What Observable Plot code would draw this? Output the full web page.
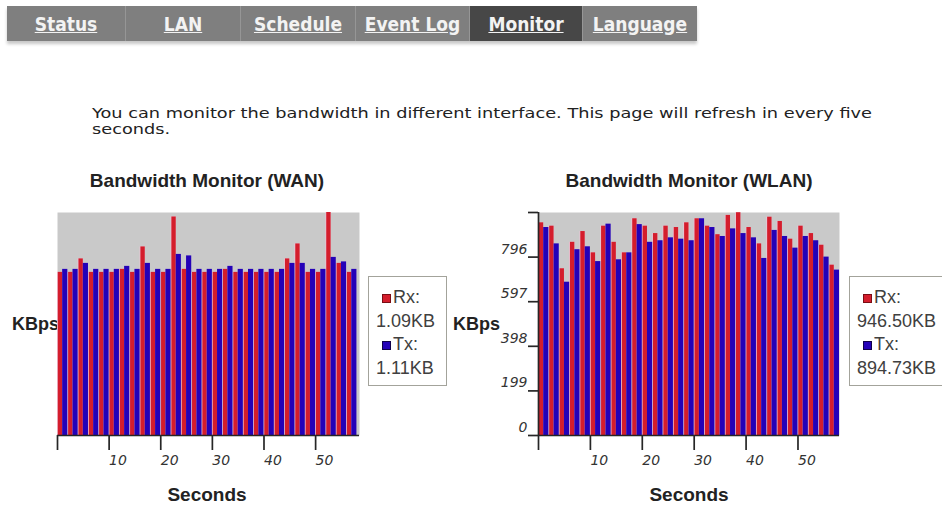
<!DOCTYPE html>
<html>
<head>
<meta charset="utf-8">
<script src="https://cdn.jsdelivr.net/npm/d3@7"></script>
<script src="https://cdn.jsdelivr.net/npm/@observablehq/plot@0.6"></script>
<style>
  html, body { margin: 0; padding: 0; background: #fff; }
  body { width: 942px; height: 506px; position: relative; overflow: hidden; font-family: "Liberation Sans", Arial, sans-serif; }
  #nav { position: absolute; left: 7px; top: 6px; height: 35px; display: flex; background: #7f7f7f; box-shadow: 0 3px 3px rgba(0,0,0,0.22); }
  .tab { height: 35px; display: flex; align-items: center; justify-content: center; box-sizing: border-box; border-right: 1px solid #969696; }
  .tab:last-child { border-right: none; }
  .tab span { color: #f3f3f3; font-weight: bold; text-decoration: underline; font-family: "Liberation Sans Narrow", "DejaVu Sans Condensed", "Liberation Sans", sans-serif; font-size: 19px; display: inline-block; }
  .tab.on { background: #474747; }
  #intro { position: absolute; left: 92px; top: 105px; font-family: "DejaVu Sans", Verdana, sans-serif; font-size: 14px; line-height: 16px; color: #222; white-space: nowrap; }
  #intro div { transform-origin: 0 50%; }
  .title, .xlab { position: absolute; font-weight: bold; font-size: 19px; line-height: 20px; color: #222; text-align: center; white-space: nowrap; }
  .ylab { position: absolute; font-weight: bold; font-size: 18px; line-height: 20px; color: #222; white-space: nowrap; }
  .chart { position: absolute; top: 200px; }
  .legend { position: absolute; top: 276px; height: 110px; box-sizing: border-box; border: 1px solid #a3a39b; background: #fff; font-size: 18px; line-height: 23.5px; color: #404040; padding-top: 9px; }
  .legend .row { white-space: nowrap; position: relative; }
  .legend .key { padding-left: 24px; }
  .legend .val { padding-left: 7px; }
  .legend .sw { position: absolute; left: 13px; top: 8px; width: 9px; height: 9px; box-sizing: border-box; }
</style>
</head>
<body>
<div id="nav"></div>
<div id="intro"></div>
<div id="wanTitle" class="title"></div>
<div id="wlanTitle" class="title"></div>
<div id="wanY" class="ylab"></div>
<div id="wlanY" class="ylab"></div>
<div id="wanX" class="xlab"></div>
<div id="wlanX" class="xlab"></div>
<div id="wanChart" class="chart"></div>
<div id="wlanChart" class="chart"></div>
<div id="wanLegend" class="legend"></div>
<div id="wlanLegend" class="legend"></div>
<script>
// ---- data ----
const navTabs = ["Status", "LAN", "Schedule", "Event Log", "Monitor", "Language"];
const activeTab = "Monitor";
const introLines = ["You can monitor the bandwidth in different interface. This page will refresh in every five", "seconds."];

const xTicks = [0, 10, 20, 30, 40, 50];          // seconds
const wlanYTicks = [0, 199, 398, 597, 796, 995];  // KBps

// one Rx/Tx pair per 2-second slot
const wanRx  = [1.09,1.09,1.18,1.09,1.09,1.09,1.11,1.09,1.26,1.09,1.09,1.46,1.11,1.09,1.09,1.09,1.11,1.09,1.09,1.09,1.09,1.09,1.18,1.28,1.09,1.09,1.49,1.15,1.09];
const wanTx  = [1.11,1.11,1.15,1.11,1.11,1.11,1.13,1.11,1.15,1.11,1.11,1.21,1.20,1.11,1.11,1.11,1.13,1.11,1.11,1.11,1.11,1.11,1.15,1.15,1.11,1.11,1.19,1.16,1.11];
const wlanRx = [949,934,744,862,910,815,934,862,815,967,934,901,934,928,949,967,934,896,982,994,928,855,974,955,876,934,901,849,760];
const wlanTx = [928,855,684,829,842,776,943,784,815,941,862,869,882,876,869,967,928,888,922,901,882,790,915,888,836,888,869,796,738];

const wanLegend  = {rx: "1.09KB",   tx: "1.11KB"};
const wlanLegend = {rx: "946.50KB", tx: "894.73KB"};

const RED = "#d41d2c", BLUE = "#2401b8", GRAY = "#c9c9c9", AXIS = "#262626";

// ---- nav ----
const tabWidths = [119, 115, 115, 114, 113, 114];
const nav = document.getElementById("nav");
navTabs.forEach((t, i) => {
  const d = document.createElement("div");
  d.className = "tab" + (t === activeTab ? " on" : "");
  d.style.width = tabWidths[i] + "px";
  const s = document.createElement("span"); s.textContent = t; d.appendChild(s);
  nav.appendChild(d);
});
const intro = document.getElementById("intro");
introLines.forEach(l => { const d = document.createElement("div"); d.textContent = l; intro.appendChild(d); });
// stretch the lines so the first one spans the reference width
const first = intro.firstChild;
const w0 = first.getBoundingClientRect().width;
const sx = 780 / w0;
intro.querySelectorAll("div").forEach(d => d.style.transform = `scaleX(${sx})`);

// ---- chart helper ----
function chart({rx, tx, xMax, yMax, width, height, marginLeft, marginRight, yAxis}) {
  const rxRows = rx.map((v, i) => ({series: "Rx", x1: 2 * i, x2: 2 * i + 1, value: v}));
  const txRows = tx.map((v, i) => ({series: "Tx", x1: 2 * i + 1, x2: 2 * i + 2, value: v}));
  const marks = [
    Plot.frame({fill: GRAY, stroke: "none"}),
    Plot.rectY(rxRows, {x1: "x1", x2: "x2", y: "value", fill: "#eec3d6"}),
    Plot.rectY(rxRows, {x1: "x1", x2: "x2", y: "value", fill: "series", insetLeft: 0.8}),
    Plot.rectY(txRows, {x1: "x1", x2: "x2", y: "value", fill: "series"}),
    Plot.ruleY([0], {stroke: AXIS, strokeWidth: 1.7}),
    Plot.axisX({ticks: xTicks, tickSize: 15, tickPadding: 5, tickFormat: d => d === 0 ? "" : d,
      textAnchor: "start", fontStyle: "italic", fontSize: 14, stroke: AXIS, strokeWidth: 1.7, fill: "#333", label: null})
  ];
  if (yAxis) {
    marks.push(Plot.ruleX([0], {y1: 0, y2: yMax, stroke: AXIS, strokeWidth: 1.7}));
    marks.push(Plot.axisY({ticks: wlanYTicks, tickSize: 10, tickFormat: () => "",
      stroke: AXIS, strokeWidth: 1.7, label: null}));
    marks.push(Plot.axisY({ticks: wlanYTicks, tickSize: 0, tickPadding: 11, dy: -8,
      tickFormat: d => d === yMax ? "" : d, fontStyle: "italic", fontSize: 14, textAnchor: "end",
      fill: "#333", label: null}));
  }
  return Plot.plot({
    width, height, marginLeft, marginRight, marginTop: 12, marginBottom: height - 235,
    style: {background: "transparent", fontFamily: "DejaVu Sans, sans-serif", fontSize: "14px", overflow: "visible"},
    x: {domain: [0, xMax], axis: null},
    y: {domain: [0, yMax], axis: null},
    color: {domain: ["Rx", "Tx"], range: [RED, BLUE]},
    marks
  });
}

const wanEl = document.getElementById("wanChart");
wanEl.style.left = "0px";
wanEl.appendChild(chart({rx: wanRx, tx: wanTx, xMax: 58.5, yMax: 1.49, width: 372, height: 285, marginLeft: 57, marginRight: 13, yAxis: false}));

const wlanEl = document.getElementById("wlanChart");
wlanEl.style.left = "455px";
wlanEl.appendChild(chart({rx: wlanRx, tx: wlanTx, xMax: 58, yMax: 995, width: 390, height: 285, marginLeft: 83, marginRight: 6, yAxis: true}));

// ---- titles / labels ----
function place(id, text, css) { const e = document.getElementById(id); e.textContent = text; Object.assign(e.style, css); }
place("wanTitle", "Bandwidth Monitor (WAN)", {left: "57px", width: "300px", top: "171px"});
place("wlanTitle", "Bandwidth Monitor (WLAN)", {left: "538px", width: "302px", top: "171px"});
place("wanX", "Seconds", {left: "57px", width: "300px", top: "485px"});
place("wlanX", "Seconds", {left: "538px", width: "302px", top: "485px"});
place("wanY", "KBps", {left: "12px", top: "314px"});
place("wlanY", "KBps", {left: "453px", top: "314px"});

function legend(id, left, width, vals) {
  const e = document.getElementById(id);
  e.style.left = left + "px"; e.style.width = width + "px";
  const items = [["Rx:", vals.rx, RED, "#7a0d14"], ["Tx:", vals.tx, BLUE, "#10004a"]];
  items.forEach(([k, v, c, b]) => {
    const r1 = document.createElement("div"); r1.className = "row key";
    const sw = document.createElement("span"); sw.className = "sw"; sw.style.background = c; sw.style.border = "1px solid " + b;
    r1.appendChild(sw); r1.appendChild(document.createTextNode(k));
    const r2 = document.createElement("div"); r2.className = "row val"; r2.textContent = v;
    e.appendChild(r1); e.appendChild(r2);
  });
}
legend("wanLegend", 368, 79, wanLegend);
legend("wlanLegend", 849, 110, wlanLegend);
</script>
</body>
</html>
